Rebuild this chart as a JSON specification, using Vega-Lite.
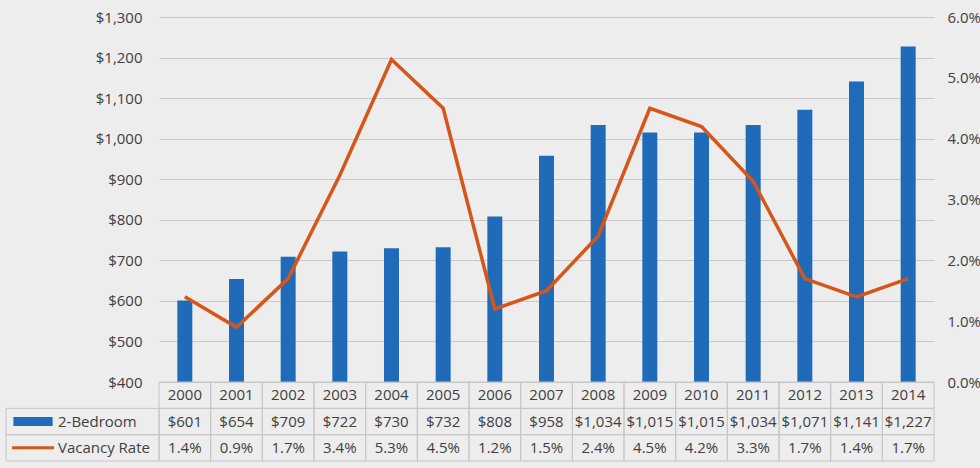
{
  "$schema": "https://vega.github.io/schema/vega-lite/v6.json",
  "background": "#EDEDED",
  "padding": {"left": 5, "top": 10, "right": 0, "bottom": 6},
  "config": {
    "font": "Open Sans",
    "view": {"stroke": null},
    "axis": {"labelFont": "Open Sans", "labelFontSize": 15, "labelColor": "#404040", "title": null},
    "text": {"font": "Open Sans", "fontSize": 15, "color": "#404040"}
  },
  "datasets": {
    "rent": [
      {"year": "2000", "rent": 601, "vacancy": 0.014},
      {"year": "2001", "rent": 654, "vacancy": 0.009},
      {"year": "2002", "rent": 709, "vacancy": 0.017},
      {"year": "2003", "rent": 722, "vacancy": 0.034},
      {"year": "2004", "rent": 730, "vacancy": 0.053},
      {"year": "2005", "rent": 732, "vacancy": 0.045},
      {"year": "2006", "rent": 808, "vacancy": 0.012},
      {"year": "2007", "rent": 958, "vacancy": 0.015},
      {"year": "2008", "rent": 1034, "vacancy": 0.024},
      {"year": "2009", "rent": 1015, "vacancy": 0.045},
      {"year": "2010", "rent": 1015, "vacancy": 0.042},
      {"year": "2011", "rent": 1034, "vacancy": 0.033},
      {"year": "2012", "rent": 1071, "vacancy": 0.017},
      {"year": "2013", "rent": 1141, "vacancy": 0.014},
      {"year": "2014", "rent": 1227, "vacancy": 0.017}
    ],
    "series": [
      {"series": "2-Bedroom"},
      {"series": "Vacancy Rate"}
    ],
    "empty": []
  },
  "columns": 2,
  "spacing": 0,
  "bounds": "flush",
  "align": "each",
  "concat": [
    {
      "width": 153,
      "height": 365,
      "data": {"name": "empty"},
      "mark": "point",
      "encoding": {}
    },
    {
      "width": 775,
      "height": 365,
      "data": {"name": "rent"},
      "encoding": {
        "x": {"field": "year", "type": "ordinal", "axis": null, "scale": {"paddingInner": 0, "paddingOuter": 0}}
      },
      "layer": [
        {
          "mark": {"type": "bar", "color": "#1F6BBA", "width": {"band": 0.29}},
          "encoding": {
            "y": {
              "field": "rent", "type": "quantitative",
              "scale": {"domain": [400, 1300], "zero": false},
              "axis": {
                "orient": "left",
                "values": [400, 500, 600, 700, 800, 900, 1000, 1100, 1200, 1300],
                "format": "$,d",
                "grid": true, "gridColor": "#C9C9C9", "gridWidth": 1,
                "domain": false, "ticks": false, "tickSize": 0, "labelPadding": 17
              }
            },
            "y2": {"datum": 400}
          }
        },
        {
          "mark": {"type": "line", "color": "#D6561A", "strokeWidth": 3.5},
          "encoding": {
            "y": {
              "field": "vacancy", "type": "quantitative",
              "scale": {"domain": [0, 0.06]},
              "axis": {
                "orient": "right",
                "values": [0, 0.01, 0.02, 0.03, 0.04, 0.05, 0.06],
                "format": ".1%",
                "grid": false, "domain": false, "ticks": false, "tickSize": 0, "labelPadding": 13
              }
            }
          }
        }
      ],
      "resolve": {"scale": {"y": "independent"}}
    },
    {
      "width": 153,
      "height": 79,
      "data": {"name": "series"},
      "encoding": {
        "y": {"field": "series", "type": "nominal", "axis": null,
              "scale": {"domain": ["Year", "2-Bedroom", "Vacancy Rate"], "paddingInner": 0, "paddingOuter": 0}}
      },
      "layer": [
        {"mark": {"type": "rect", "fill": "transparent", "stroke": "#C6C6C6", "strokeWidth": 1}},
        {
          "mark": {"type": "point", "filled": true, "size": 1600, "opacity": 1, "strokeWidth": 0},
          "encoding": {
            "x": {"datum": "symbol", "type": "nominal", "axis": null,
                  "scale": {"type": "point", "domain": ["symbol", "label"], "range": [27, 52], "padding": 0}},
            "color": {"field": "series", "type": "nominal", "legend": null,
                      "scale": {"domain": ["2-Bedroom", "Vacancy Rate"], "range": ["#1F6BBA", "#D6561A"]}},
            "shape": {"field": "series", "type": "nominal", "legend": null,
                      "scale": {"domain": ["2-Bedroom", "Vacancy Rate"], "range": ["M-0.98,-0.22H0.98V0.22H-0.98Z", "M-1.05,-0.075H1.05V0.075H-1.05Z"]}}
          }
        },
        {
          "mark": {"type": "text", "align": "left", "baseline": "middle"},
          "encoding": {
            "x": {"datum": "label", "type": "nominal"},
            "text": {"field": "series", "type": "nominal"}
          }
        }
      ]
    },
    {
      "width": 775,
      "height": 79,
      "data": {"name": "rent"},
      "encoding": {
        "x": {"field": "year", "type": "ordinal", "axis": null, "scale": {"paddingInner": 0, "paddingOuter": 0}}
      },
      "layer": [
        {
          "mark": {"type": "rect", "fill": "transparent", "stroke": "#C6C6C6", "strokeWidth": 1},
          "encoding": {"y": {"datum": "Year", "type": "nominal", "axis": null,
                             "scale": {"domain": ["Year", "2-Bedroom", "Vacancy Rate"], "paddingInner": 0, "paddingOuter": 0}}}
        },
        {
          "mark": {"type": "rect", "fill": "transparent", "stroke": "#C6C6C6", "strokeWidth": 1},
          "encoding": {"y": {"datum": "2-Bedroom", "type": "nominal"}}
        },
        {
          "mark": {"type": "rect", "fill": "transparent", "stroke": "#C6C6C6", "strokeWidth": 1},
          "encoding": {"y": {"datum": "Vacancy Rate", "type": "nominal"}}
        },
        {
          "mark": {"type": "text", "baseline": "middle"},
          "encoding": {"y": {"datum": "Year", "type": "nominal"}, "text": {"field": "year", "type": "nominal"}}
        },
        {
          "mark": {"type": "text", "baseline": "middle"},
          "encoding": {"y": {"datum": "2-Bedroom", "type": "nominal"}, "text": {"field": "rent", "type": "quantitative", "format": "$,d"}}
        },
        {
          "mark": {"type": "text", "baseline": "middle"},
          "encoding": {"y": {"datum": "Vacancy Rate", "type": "nominal"}, "text": {"field": "vacancy", "type": "quantitative", "format": ".1%"}}
        }
      ]
    }
  ]
}
